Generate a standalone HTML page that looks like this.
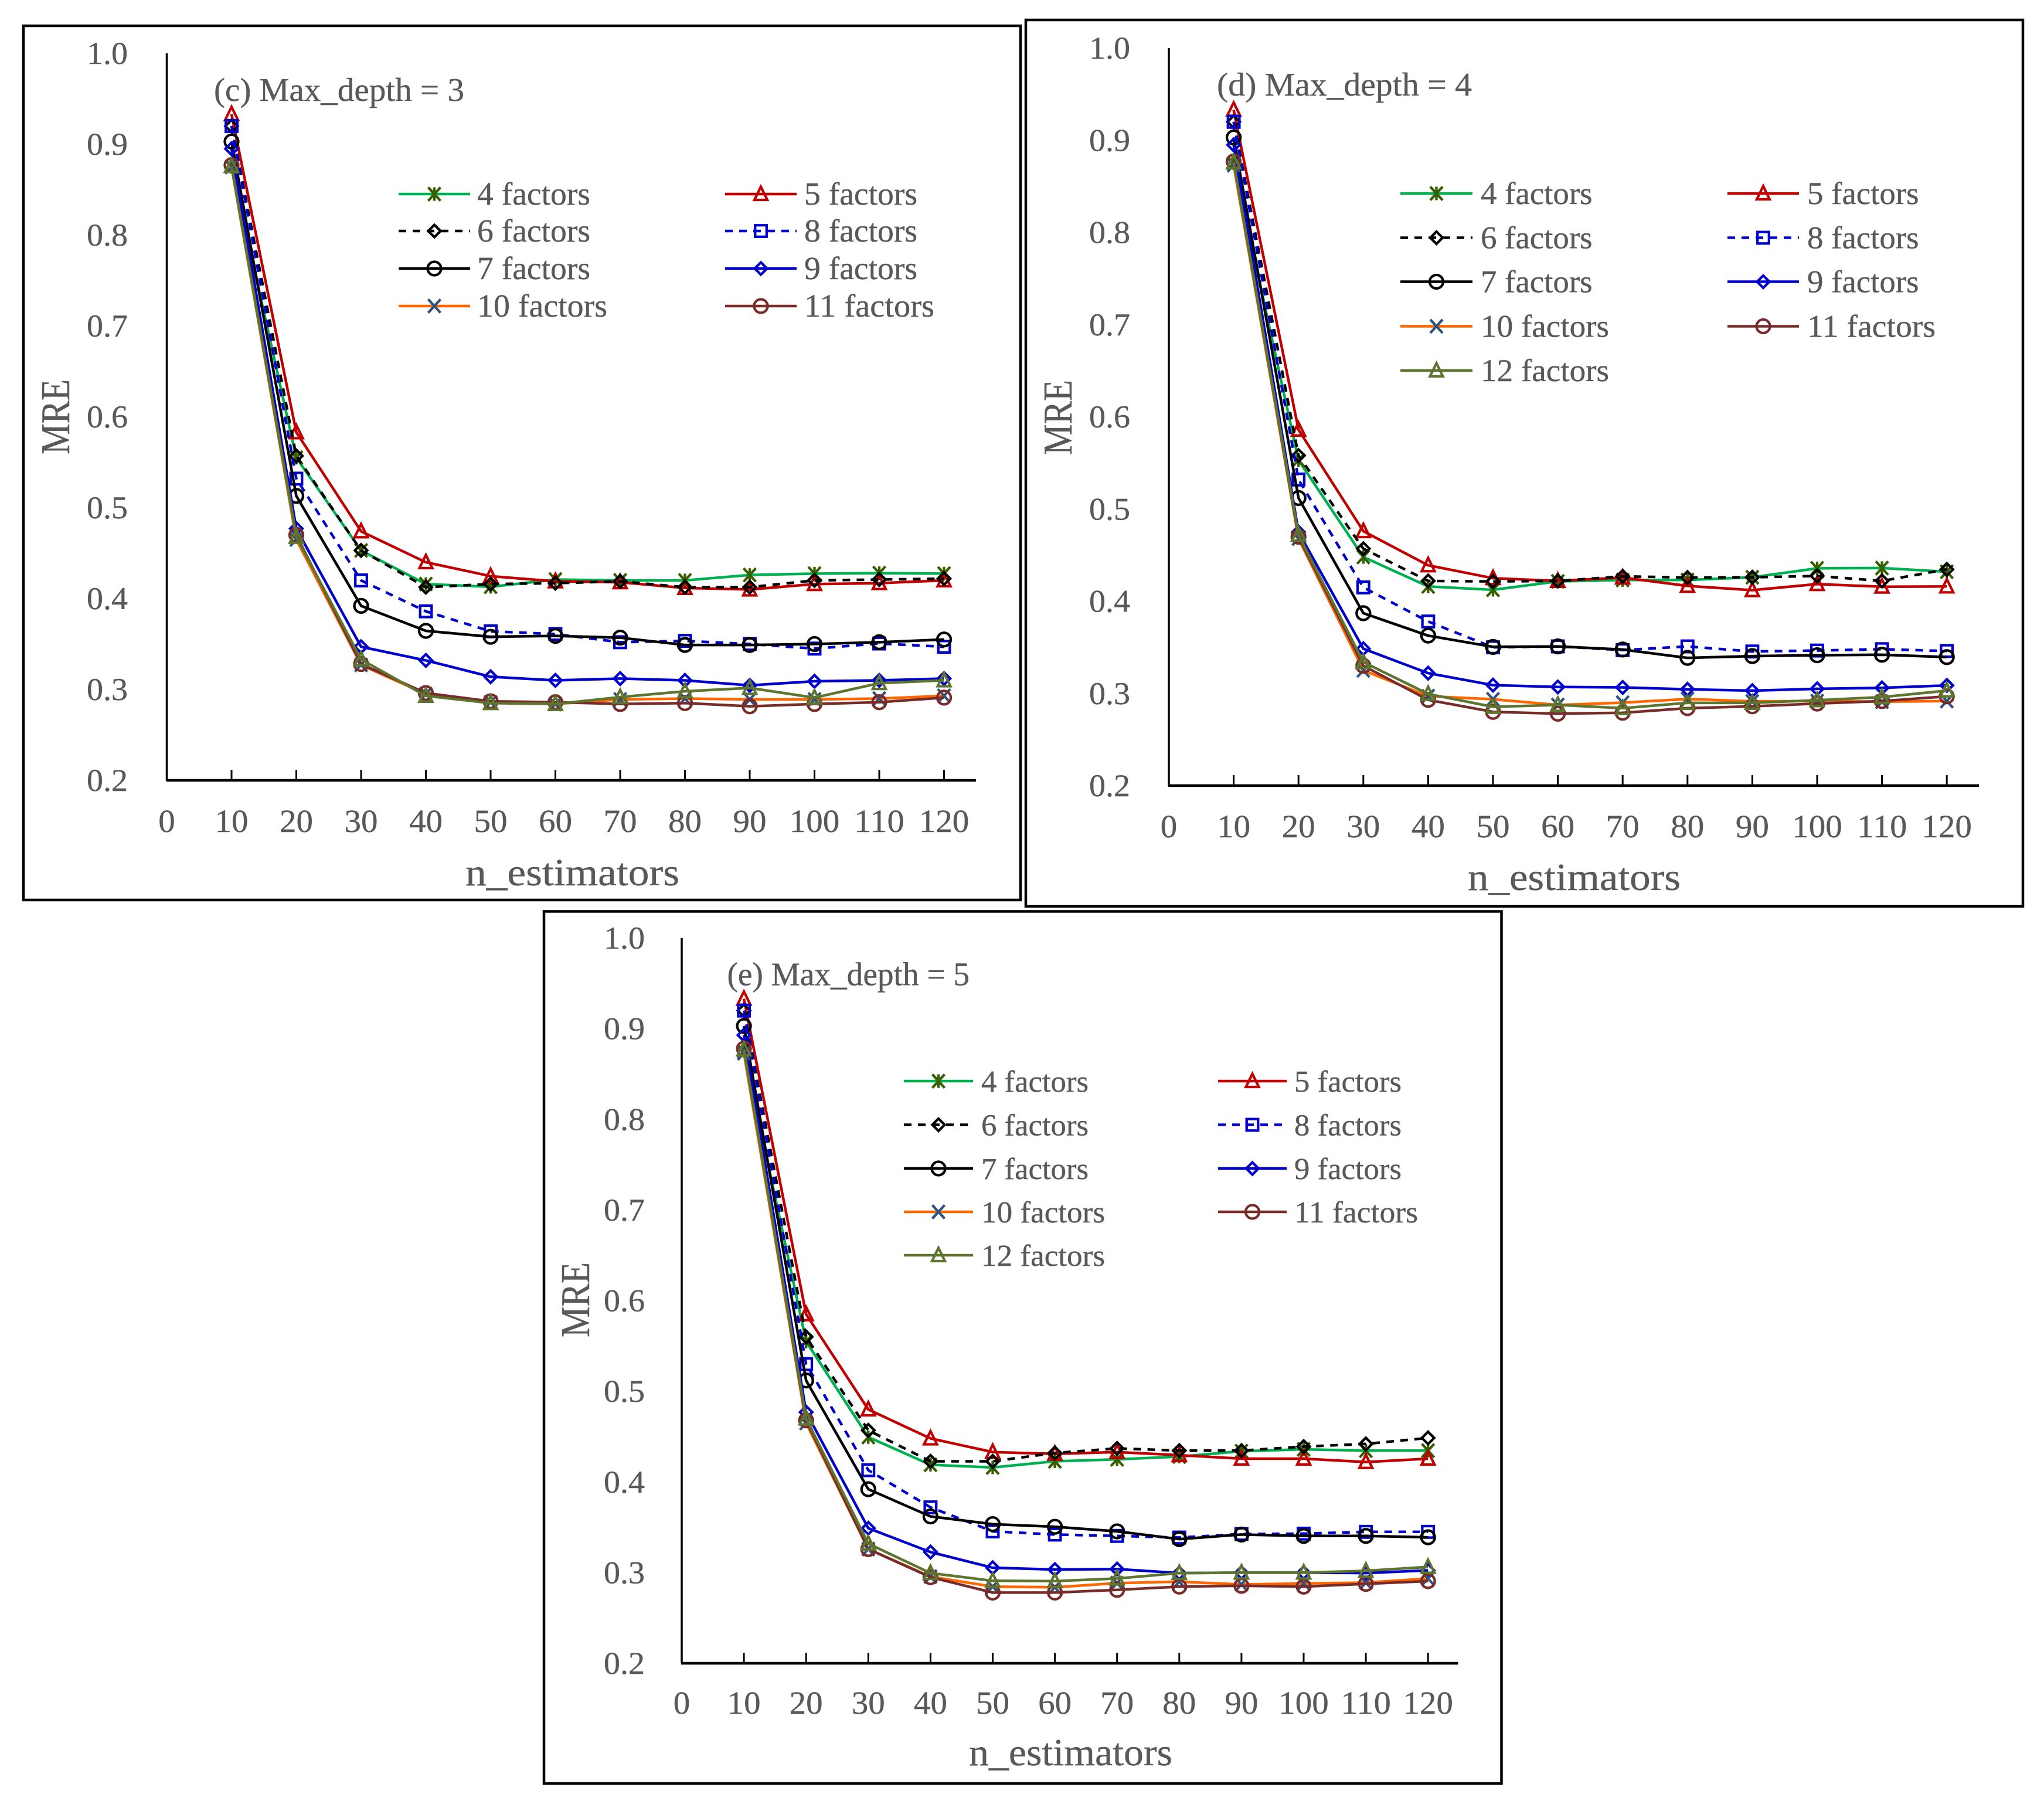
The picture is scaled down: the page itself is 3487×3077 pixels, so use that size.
<!DOCTYPE html>
<html lang="en">
<head>
<meta charset="utf-8">
<title>MRE vs n_estimators</title>
<style>
html,body{margin:0;padding:0;background:#fff;}
svg{display:block;}
text{font-family:"Liberation Serif","DejaVu Serif",serif;fill:#595959;stroke:#595959;stroke-width:0.4px;}
</style>
</head>
<body>
<svg id="figure" xmlns="http://www.w3.org/2000/svg" width="3487" height="3077" viewBox="0 0 3487 3077"></svg>
<script>
const categories = [10,20,30,40,50,60,70,80,90,100,110,120];
const xTickLabels = [0,10,20,30,40,50,60,70,80,90,100,110,120];
const yTickLabels = ['0.2','0.3','0.4','0.5','0.6','0.7','0.8','0.9','1.0'];
const yTickValues = [0.2,0.3,0.4,0.5,0.6,0.7,0.8,0.9,1.0];
const seriesNames = ['4 factors','5 factors','6 factors','8 factors','7 factors','9 factors','10 factors','11 factors','12 factors'];

const c4 = [.875,.555,.453,.416,.413,.421,.420,.420,.426,.4275,.428,.4275];
const c5 = [.933,.583,.474,.440,.4247,.419,.418,.4117,.410,.416,.417,.420];
const c6 = [.920,.557,.453,.4126,.416,.417,.419,.4126,.4126,.420,.421,.422];
const c8 = [.920,.532,.420,.386,.364,.361,.352,.3535,.350,.345,.3506,.347];
const c7 = [.903,.513,.392,.3645,.358,.359,.357,.349,.349,.350,.352,.355];
const c9 = [.895,.477,.347,.332,.314,.310,.312,.310,.3045,.309,.310,.312];
const c10 = [.875,.465,.327,.295,.286,.284,.289,.290,.289,.289,.290,.293];
const c11 = [.877,.470,.328,.296,.287,.286,.284,.285,.2815,.284,.286,.291];
const c12 = [.876,.468,.333,.293,.285,.284,.2916,.298,.3017,.291,.307,.310];

const d4 = [.875,.553,.448,.416,.4124,.4215,.423,.423,.426,.4357,.436,.432];
const d5 = [.933,.586,.476,.439,.425,.422,.4257,.4166,.412,.4186,.4158,.416];
const d6 = [.920,.558,.457,.422,.4215,.422,.427,.4257,.426,.4274,.422,.4345];
const d8 = [.920,.532,.415,.378,.350,.351,.347,.351,.3455,.3465,.348,.346];
const d7 = [.903,.512,.387,.3627,.3505,.351,.3476,.3386,.3405,.3414,.342,.3394];
const d9 = [.895,.475,.3485,.322,.309,.307,.3065,.3045,.303,.305,.306,.3087];
const d10 = [.873,.468,.325,.297,.2937,.2875,.290,.294,.2914,.2917,.291,.2917];
const d11 = [.877,.470,.330,.293,.280,.278,.279,.284,.286,.289,.2917,.2968];
const d12 = [.876,.472,.334,.2994,.2855,.2875,.284,.2897,.2897,.2926,.296,.303];

const e4 = [.875,.555,.4495,.419,.416,.4228,.425,.428,.434,.436,.4346,.4346];
const e5 = [.933,.585,.480,.448,.433,.431,.433,.4296,.4257,.4257,.422,.4257];
const e6 = [.920,.560,.457,.4228,.4228,.432,.437,.4346,.4346,.439,.442,.4486];
const e8 = [.920,.530,.413,.372,.3455,.342,.3405,.3387,.3426,.343,.345,.345];
const e7 = [.903,.512,.392,.362,.3535,.3506,.3455,.337,.342,.3405,.3405,.339];
const e9 = [.893,.477,.349,.3227,.3054,.3034,.304,.2995,.300,.300,.2995,.3025];
const e10 = [.873,.465,.326,.2956,.2846,.2838,.2885,.290,.287,.288,.289,.2935];
const e11 = [.878,.468,.326,.295,.278,.278,.281,.2846,.2855,.2846,.2876,.2906];
const e12 = [.877,.470,.332,.2995,.291,.2906,.2935,.2995,.300,.300,.302,.3063];

const styles = [
  {line:'#00b050', mark:'#375f00', shape:'star',     dash:''},
  {line:'#c00000', mark:'#c00000', shape:'triangle', dash:''},
  {line:'#000000', mark:'#000000', shape:'diamond',  dash:'13 11'},
  {line:'#0000cc', mark:'#0000cc', shape:'square',   dash:'13 11'},
  {line:'#000000', mark:'#000000', shape:'circle',   dash:''},
  {line:'#0000cc', mark:'#0000cc', shape:'diamond',  dash:''},
  {line:'#ff6600', mark:'#2f5280', shape:'cross',    dash:''},
  {line:'#772c2a', mark:'#772c2a', shape:'circle',   dash:''},
  {line:'#5e7530', mark:'#5e7530', shape:'triangle', dash:''}
];

const panels = [
  {id:'c', title:'(c) Max_depth = 3', values:[c4,c5,c6,c8,c7,c9,c10,c11,c12], legendCount:8,
   frame:[40,44,1741,1535], x0:284.5, xPer10:110.5, xEnd:1665, yTop:91, yBottom:1331,
   titleX:365, titleY:172, titleW:427, yLabelR:218, xLabelY:1419, xTitleX:794, xTitleY:1510, xTitleW:365,
   mreX:118, mreY:711, legendLineX:[680,802], legendLineX2:[1237,1359], legendY:[331,394,458,522], legendTextX:[814,1372], textW:193, textW10:222, fs:55},
  {id:'d', title:'(d) Max_depth = 4', values:[d4,d5,d6,d8,d7,d9,d10,d11,d12], legendCount:9,
   frame:[1750,34,3451,1546], x0:1994, xPer10:110.6, xEnd:3376, yTop:82, yBottom:1340,
   titleX:2076, titleY:163, titleW:435, yLabelR:1928, xLabelY:1428, xTitleX:2504, xTitleY:1518, xTitleW:363,
   mreX:1828, mreY:712, legendLineX:[2389,2512],legendLineX2:[2947,3069], legendY:[330,405.5,480.5,556.5,632], legendTextX:[2526,3083], textW:190.5, textW10:219, fs:54},
  {id:'e', title:'(e) Max_depth = 5', values:[e4,e5,e6,e8,e7,e9,e10,e11,e12], legendCount:9,
   frame:[928,1554.5,2561.5,3042], x0:1163, xPer10:106.1, xEnd:2487.5, yTop:1600, yBottom:2837,
   titleX:1240.5, titleY:1680.5, titleW:413.5, yLabelR:1100, xLabelY:2923, xTitleX:1653, xTitleY:3011, xTitleW:347,
   mreX:1005, mreY:2217, legendLineX:[1542,1660],legendLineX2:[2078,2195], legendY:[1844,1918.5,1993,2067,2141], legendTextX:[1674,2208], textW:183, textW10:211, fs:52}
];

const NS = 'http://www.w3.org/2000/svg';
const root = document.getElementById('figure');

function mk(tag, attrs, parent){
  const el = document.createElementNS(NS, tag);
  for (const k in attrs) el.setAttribute(k, attrs[k]);
  parent.appendChild(el);
  return el;
}

function drawMarker(parent, style, cx, cy){
  const sw = 4.3, s = style.mark;
  const base = {fill:'none', stroke:s, 'stroke-width':sw};
  let el;
  if (style.shape === 'circle'){
    el = mk('circle', Object.assign({cx:cx, cy:cy, r:11.5}, base), parent);
  } else if (style.shape === 'square'){
    el = mk('rect', Object.assign({x:cx-9.8, y:cy-9.8, width:19.6, height:19.6}, base), parent);
  } else if (style.shape === 'diamond'){
    el = mk('polygon', Object.assign({points:[cx,cy-10.5,cx+10.5,cy,cx,cy+10.5,cx-10.5,cy].join(' ')}, base), parent);
  } else if (style.shape === 'triangle'){
    el = mk('polygon', Object.assign({points:[cx,cy-12.5,cx+11,cy+10,cx-11,cy+10].join(' ')}, base), parent);
  } else if (style.shape === 'cross'){
    el = mk('path', Object.assign({d:`M${cx-10.5} ${cy-11.5}L${cx+10.5} ${cy+11.5}M${cx+10.5} ${cy-11.5}L${cx-10.5} ${cy+11.5}`}, base), parent);
  } else {
    el = mk('path', Object.assign({d:`M${cx-10.5} ${cy-11.5}L${cx+10.5} ${cy+11.5}M${cx+10.5} ${cy-11.5}L${cx-10.5} ${cy+11.5}M${cx} ${cy-11.5}L${cx} ${cy+11.5}`}, base), parent);
  }
  
  
  return el;
}

panels.forEach(function(p){
  const xScale = function(v){ return p.x0 + v / 10 * p.xPer10; };
  const yScale = function(v){ return p.yBottom - (v - 0.2) / 0.8 * (p.yBottom - p.yTop); };

  const g = mk('g', {}, root);
  
  

  const frame = mk('rect', {x:p.frame[0], y:p.frame[1], width:p.frame[2]-p.frame[0], height:p.frame[3]-p.frame[1], fill:'#fff', stroke:'#000', 'stroke-width':4.5}, g);
  
  

  const yAxis = mk('line', {x1:p.x0, y1:p.yTop, x2:p.x0, y2:p.yBottom, stroke:'#000', 'stroke-width':3.5}, g);
  
  

  const xAxis = mk('line', {x1:p.x0-1, y1:p.yBottom, x2:p.xEnd, y2:p.yBottom, stroke:'#000', 'stroke-width':4.5}, g);
  
  

  xTickLabels.forEach(function(v){
    if (v > 0){
      const t = mk('line', {x1:xScale(v), y1:p.yBottom-18, x2:xScale(v), y2:p.yBottom, stroke:'#000', 'stroke-width':3}, g);
      
      
    }
    const s = String(v);
    const l = mk('text', {x:xScale(v), y:p.xLabelY, 'text-anchor':'middle', 'font-size':55, textLength:s.length*28.5, lengthAdjust:'spacingAndGlyphs'}, g);
    l.textContent = s;
    
    
  });

  yTickValues.forEach(function(v, i){
    const l = mk('text', {x:p.yLabelR, y:yScale(v)+18, 'text-anchor':'end', 'font-size':54, textLength:70, lengthAdjust:'spacingAndGlyphs'}, g);
    l.textContent = yTickLabels[i];
    
    
  });

  const title = mk('text', {x:p.titleX, y:p.titleY, 'font-size':56, textLength:p.titleW, lengthAdjust:'spacingAndGlyphs'}, g);
  title.textContent = p.title;
  
  

  const xTitle = mk('text', {x:p.xTitleX, y:p.xTitleY, 'font-size':66, textLength:p.xTitleW, lengthAdjust:'spacingAndGlyphs'}, g);
  xTitle.textContent = 'n_estimators';
  
  

  const mre = mk('text', {transform:'translate('+p.mreX+' '+p.mreY+') rotate(-90)', 'text-anchor':'middle', 'font-size':70, textLength:128, lengthAdjust:'spacingAndGlyphs'}, g);
  mre.textContent = 'MRE';
  
  

  p.values.forEach(function(vals, si){
    const st = styles[si];
    const sg = mk('g', {}, g);
    
    
    const pts = vals.map(function(v, i){ return xScale(categories[i]).toFixed(1) + ',' + yScale(v).toFixed(1); }).join(' ');
    const attrs = {points:pts, fill:'none', stroke:st.line, 'stroke-width':4.5, 'stroke-linejoin':'round'};
    if (st.dash) attrs['stroke-dasharray'] = st.dash;
    const pl = mk('polyline', attrs, sg);
    
    
    vals.forEach(function(v, i){
      drawMarker(sg, st, xScale(categories[i]), yScale(v));
    });
  });

  const lg = mk('g', {}, g);
  
  
  for (let i = 0; i < p.legendCount; i++){
    const col = i % 2, row = Math.floor(i / 2);
    const st = styles[i];
    const range = col === 0 ? p.legendLineX : p.legendLineX2;
    const y = p.legendY[row];
    const en = mk('g', {}, lg);
    
    
    const a = {x1:range[0], y1:y, x2:range[1], y2:y, stroke:st.line, 'stroke-width':4.5};
    if (st.dash) a['stroke-dasharray'] = st.dash;
    const ll = mk('line', a, en);
    
    
    drawMarker(en, st, (range[0]+range[1])/2, y);
    const name = seriesNames[i];
    const tx = mk('text', {x:p.legendTextX[col], y:y+18, 'font-size':p.fs, textLength:name.length > 9 ? p.textW10 : p.textW, lengthAdjust:'spacingAndGlyphs'}, en);
    tx.textContent = name;
    
    
  }
});
</script>
</body>
</html>
